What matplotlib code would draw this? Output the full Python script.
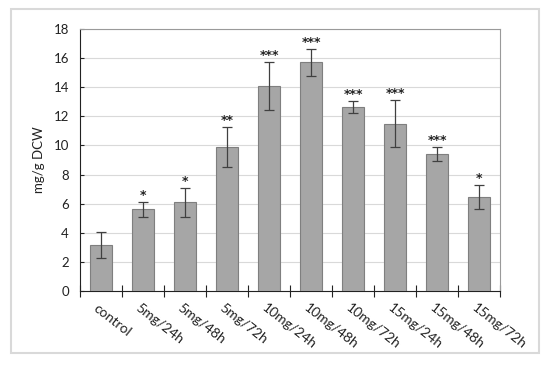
import matplotlib
matplotlib.use("Agg")
import matplotlib.pyplot as plt
from matplotlib.patches import Rectangle
import numpy as np

categories = ["control", "5mg/24h", "5mg/48h", "5mg/72h", "10mg/24h", "10mg/48h",
              "10mg/72h", "15mg/24h", "15mg/48h", "15mg/72h"]
values = [3.15, 5.6, 6.1, 9.9, 14.1, 15.7, 12.65, 11.5, 9.4, 6.45]
errors = [0.87, 0.5, 1.0, 1.4, 1.65, 0.92, 0.42, 1.6, 0.5, 0.8]
stars = ["", "*", "*", "**", "***", "***", "***", "***", "***", "*"]
yticks = [0, 2, 4, 6, 8, 10, 12, 14, 16, 18]

plt.rcParams['font.family'] = ['Lato', 'DejaVu Sans']

fig = plt.figure(figsize=(5.5, 3.65), dpi=100)
ax = fig.add_axes([80/550, 1-291/365, 420/550, 262/365])

x = np.arange(len(categories))
ax.bar(x, values, width=0.52, color="#a6a6a6", edgecolor="#7f7f7f", linewidth=0.8, zorder=3)
ax.errorbar(x, values, yerr=errors, fmt="none", ecolor="#404040", elinewidth=0.9,
            capsize=3.5, capthick=0.9, zorder=4)
for xi, v, e, s in zip(x, values, errors, stars):
    if s:
        ax.annotate(s, (xi, v + e), xytext=(0, 0), textcoords="offset points",
                    ha="center", va="bottom", fontsize=9, fontweight="bold", color="#222222",
                    family="DejaVu Sans", zorder=5)

ax.set_xlim(-0.5, len(categories) - 0.5)
ax.set_ylim(0, 18)
ax.set_yticks(yticks)
ax.yaxis.grid(True, color="#d9d9d9", linewidth=0.8, zorder=0)
ax.set_axisbelow(True)
ax.tick_params(axis="y", direction="in", length=3, width=0.8, labelsize=9.5, colors="#222222", pad=8)

ax.set_xticks(np.arange(len(categories) + 1) - 0.5)
ax.set_xticklabels([])
ax.tick_params(axis="x", direction="inout", length=9, width=0.8, color="#222222")
for xi, lab in zip(x, categories):
    ax.text(xi - 0.05, -0.75, lab, rotation=-38, rotation_mode="anchor", ha="left", va="top",
            fontsize=10, color="#222222")

ax.set_ylabel("mg/g DCW", fontsize=9.5, color="#222222", labelpad=6)

ax.spines["left"].set_color("#222222")
ax.spines["bottom"].set_color("#222222")
ax.spines["top"].set_color("#9a9a9a")
ax.spines["right"].set_color("#9a9a9a")
for sp in ax.spines.values():
    sp.set_linewidth(0.8)

fig.patches.append(Rectangle((11/550, 1-353/365), 528/550, 344/365, transform=fig.transFigure,
                             fill=False, edgecolor="#d9d9d9", linewidth=1.5))

fig.savefig("out.png", dpi=100)
